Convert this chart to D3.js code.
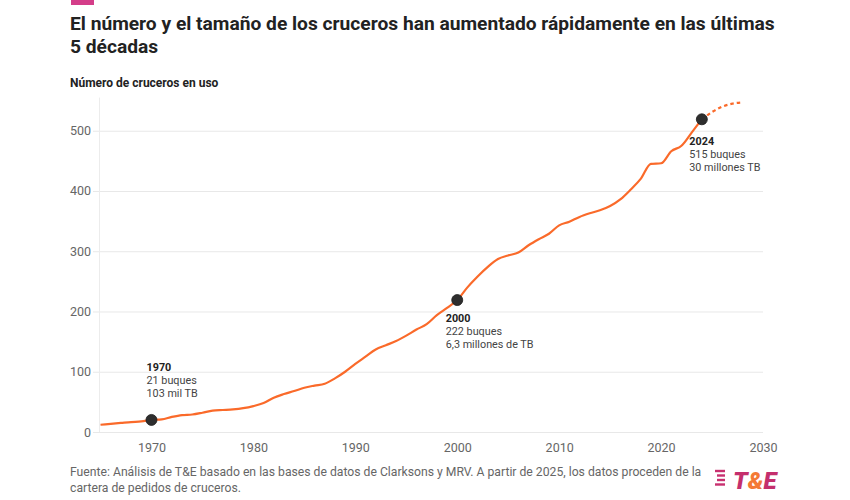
<!DOCTYPE html>
<html><head><meta charset="utf-8">
<script src="https://cdn.jsdelivr.net/npm/d3@7/dist/d3.min.js"></script>
<style>
html,body{margin:0;padding:0;background:#fff;}
svg{display:block;font-family:Roboto,"Noto Sans",sans-serif;}
</style></head><body>
<svg id="chart" width="850" height="500"></svg>
<script>
const years = [1965,1966,1967,1968,1969,1970,1971,1972,1973,1974,1975,1976,1977,1978,1979,1980,1981,1982,1983,1984,1985,1986,1987,1988,1989,1990,1991,1992,1993,1994,1995,1996,1997,1998,1999,2000,2001,2002,2003,2004,2005,2006,2007,2008,2009,2010,2011,2012,2013,2014,2015,2016,2017,2018,2019,2020,2021,2022,2023,2024];
const ships = [12,13.5,15,16.5,17.5,20,21,25,28,29,32,35.5,36.5,37.5,39.5,43,48,57,63,68,73.5,77,80,89,100,113,125,137,144,151,160,170,179,194,206,219,240,258,274,287,293,298,310,320,329,343,349,357,363,368,375,386,402,420,445,446,466,475,497,519];
const forecastYears = [2024,2025,2026,2027,2028];
const forecastShips = [519,531,540,545,547];
const highlightYears = [1970,2000,2024];
const highlightShips = [20,219,519];
const highlightLabels = [
  ["1970","21 buques","103 mil TB"],
  ["2000","222 buques","6,3 millones de TB"],
  ["2024","515 buques","30 millones TB"]
];
const yTicks = [0,100,200,300,400,500];
const xTicks = [1970,1980,1990,2000,2010,2020,2030];
const titleLines = ["El número y el tamaño de los cruceros han aumentado rápidamente en las últimas","5 décadas"];
const subtitle = "Número de cruceros en uso";
const footerLines = ["Fuente: Análisis de T&E basado en las bases de datos de Clarksons y MRV. A partir de 2025, los datos proceden de la","cartera de pedidos de cruceros."];

const svg = d3.select("#chart");
const orange = "#fa6a2a";
const x = d3.scaleLinear().domain([1965,2030]).range([100.5,763]);
const y = d3.scaleLinear().domain([0,555]).range([432,97.6]);

// top accent
svg.append("rect").attr("x",71).attr("y",0).attr("width",23).attr("height",5).attr("fill","#d43d89");

// title
svg.append("g").selectAll("text").data(titleLines).join("text")
  .attr("x",70).attr("y",(d,i)=>30+i*23)
  .attr("font-size",19.2).attr("font-weight",700).attr("fill","#222").text(d=>d);
svg.append("text").attr("x",70).attr("y",87).attr("font-size",12).attr("font-weight",700).attr("fill","#222").text(subtitle);

// y grid/axis
const gy = svg.append("g").attr("transform","translate(93,0)")
  .call(d3.axisLeft(y).tickValues(yTicks).tickSize(-(763-93)).tickPadding(2));
gy.select(".domain").remove();
gy.selectAll(".tick line").attr("stroke","#e8e8e8").attr("stroke-width",1);
gy.selectAll(".tick text").attr("font-size",12.5).attr("fill","#666").attr("font-family","Roboto,sans-serif");
svg.append("line").attr("x1",99.5).attr("x2",99.5).attr("y1",y(555)).attr("y2",432).attr("stroke","#ececec");

// x axis
const gx = svg.append("g").attr("transform","translate(0,432)")
  .call(d3.axisBottom(x).tickValues(xTicks).tickFormat(d3.format("d")).tickSize(0).tickPadding(11));
gx.select(".domain").remove();
gx.selectAll(".tick text").attr("font-size",12.5).attr("fill","#666").attr("font-family","Roboto,sans-serif");

// line
const line = d3.line().x(d=>x(d[0])).y(d=>y(d[1])).curve(d3.curveMonotoneX);
svg.append("path").datum(years.map((yr,i)=>[yr,ships[i]]))
  .attr("d",line).attr("fill","none").attr("stroke",orange).attr("stroke-width",2.2).attr("stroke-linejoin","round");
svg.append("path").datum(forecastYears.map((yr,i)=>[yr,forecastShips[i]]))
  .attr("d",line).attr("fill","none").attr("stroke",orange).attr("stroke-width",2.2).attr("stroke-dasharray","3.5,3");

// dots
svg.append("g").selectAll("circle").data(highlightYears).join("circle")
  .attr("cx",d=>x(d)).attr("cy",(d,i)=>y(highlightShips[i])).attr("r",5.5)
  .attr("fill","#2e2e2e").attr("stroke","#1a1a1a").attr("stroke-width",0.8);

// annotations
const annPos = [[146.5,370.7],[445.7,321.7],[689.3,145]];
const ann = svg.append("g");
highlightLabels.forEach((lines,i)=>{
  const t = ann.append("text").attr("x",annPos[i][0]).attr("y",annPos[i][1]).attr("font-size",10.8).attr("fill","#333");
  lines.forEach((l,j)=>{
    t.append("tspan").attr("x",annPos[i][0]).attr("dy",j===0?0:13.2)
     .attr("font-weight",j===0?700:400).attr("fill",j===0?"#222":"#444").text(l);
  });
});

// footer
svg.append("g").selectAll("text").data(footerLines).join("text")
  .attr("x",70).attr("y",(d,i)=>476+i*16)
  .attr("font-size",12.2).attr("fill","#666").text(d=>d);

// logo
const logo = svg.append("g");
[[471,10],[475.5,8],[480,8],[484.5,10]].forEach((s,i)=>{
  logo.append("rect").attr("x",715+(10-s[1])).attr("y",s[0]-1.2).attr("width",s[1]).attr("height",2.4).attr("fill","#c8306f");
});
const lt = logo.append("text").attr("x",733).attr("y",488.5).attr("font-size",24).attr("font-weight",900)
  .attr("font-style","italic").attr("font-family","Roboto,sans-serif");
lt.append("tspan").attr("fill","#c42f6d").text("T");
lt.append("tspan").attr("fill","#f47a35").text("&");
lt.append("tspan").attr("fill","#c42f6d").text("E");
</script>
</body></html>
